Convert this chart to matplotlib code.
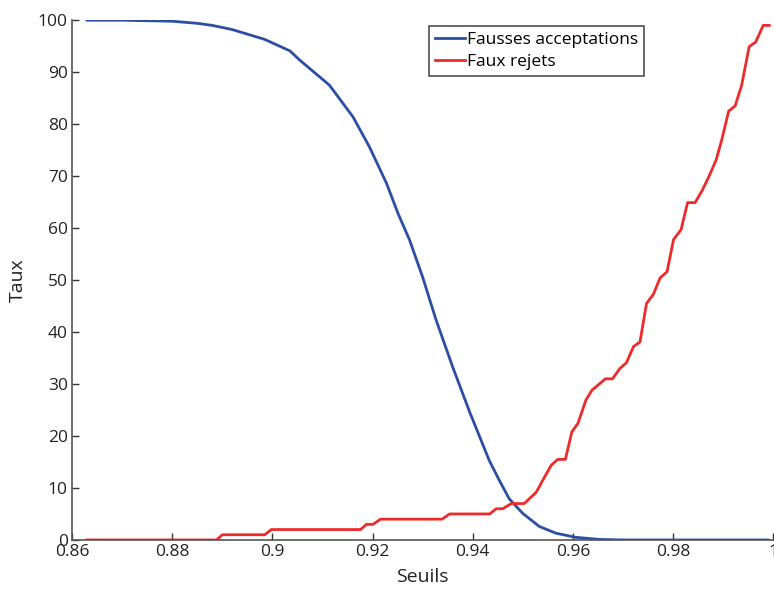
import numpy as np
import matplotlib
matplotlib.use('Agg')
import matplotlib.pyplot as plt

plt.rcParams['font.family'] = ['Open Sans', 'DejaVu Sans']

# taux de fausses acceptations (bleu)
fa_seuils = [0.863, 0.870, 0.875, 0.880, 0.885, 0.888, 0.892, 0.8985, 0.9035,
             0.9055, 0.9114, 0.9161, 0.9194, 0.9228, 0.9251, 0.9274, 0.930,
             0.9327, 0.936, 0.9394, 0.9433, 0.9453, 0.9473, 0.950, 0.9533,
             0.9566, 0.9606, 0.9653, 0.970, 0.980, 0.990, 0.999]
fa_taux = [100.0, 100.0, 99.9, 99.8, 99.4, 99.0, 98.2, 96.3, 94.1,
           92.3, 87.5, 81.4, 75.6, 68.6, 62.8, 57.7, 50.6,
           42.3, 33.3, 24.6, 15.3, 11.5, 7.9, 5.1, 2.6,
           1.3, 0.5, 0.1, 0.0, 0.0, 0.0, 0.0]

# taux de faux rejets (rouge)
fr_seuils = [0.863, 0.8889, 0.8900, 0.8985, 0.8998, 0.9176, 0.9188, 0.9201,
             0.9216, 0.9339, 0.9354, 0.9434, 0.9447, 0.9460, 0.9477, 0.9503,
             0.9527, 0.9540, 0.9557, 0.9570, 0.9585, 0.9598, 0.9610, 0.9626,
             0.9638, 0.9665, 0.9679, 0.9694, 0.9707, 0.9721, 0.9734, 0.9747,
             0.9761, 0.9774, 0.9788, 0.9801, 0.9816, 0.9829, 0.9844, 0.9858,
             0.9872, 0.9886, 0.9897, 0.9911, 0.9924, 0.9937, 0.9952, 0.9965,
             0.9980, 0.9992]
fr_taux = [0.0, 0.0, 1.0, 1.0, 2.0, 2.0, 3.0, 3.0,
           4.0, 4.0, 5.0, 5.0, 6.0, 6.0, 7.0, 7.0,
           9.2, 11.5, 14.4, 15.5, 15.5, 20.8, 22.4, 26.9,
           28.8, 31.0, 31.0, 33.0, 34.1, 37.2, 38.1, 45.5,
           47.3, 50.4, 51.6, 57.8, 59.7, 64.9, 64.9, 67.2,
           70.0, 73.1, 76.9, 82.5, 83.5, 87.5, 94.9, 95.8,
           99.0, 99.0]

x_ticks = [0.86, 0.88, 0.9, 0.92, 0.94, 0.96, 0.98, 1.0]
x_labels = ['0.86', '0.88', '0.9', '0.92', '0.94', '0.96', '0.98', '1']
y_ticks = np.arange(0, 101, 10)

fig = plt.figure(figsize=(7.74, 5.94), dpi=100)
ax = fig.add_axes([0.093, 0.091, 0.906, 0.875])

ax.plot(fa_seuils, fa_taux, color='#2b4ea2', lw=2, label='Fausses acceptations')
ax.plot(fr_seuils, fr_taux, color='#ee2a2a', lw=2, label='Faux rejets')

ax.set_xlim(0.86, 1.0)
ax.set_ylim(0, 100)
ax.set_xticks(x_ticks)
ax.set_xticklabels(x_labels)
ax.set_yticks(y_ticks)
ax.tick_params(direction='in', length=5, width=1, colors='#333333',
               labelsize=12.5, labelcolor='#222222', pad=3)
for s in ['top', 'right']:
    ax.spines[s].set_visible(False)
for s in ['left', 'bottom']:
    ax.spines[s].set_color('#555555')
    ax.spines[s].set_linewidth(1.2)

ax.set_xlabel('Seuils', fontsize=14, color='#222222', labelpad=6)
ax.set_ylabel('Taux', fontsize=14, color='#222222', labelpad=8)

leg = ax.legend(loc='upper left', bbox_to_anchor=(0.509, 0.989), fontsize=12.5,
                frameon=True, fancybox=False, handlelength=1.7, handletextpad=0.15,
                borderpad=0.35, labelspacing=0.35, borderaxespad=0)
leg.get_frame().set_edgecolor('#222222')
leg.get_frame().set_linewidth(1.2)

fig.savefig('out.png', dpi=100)
